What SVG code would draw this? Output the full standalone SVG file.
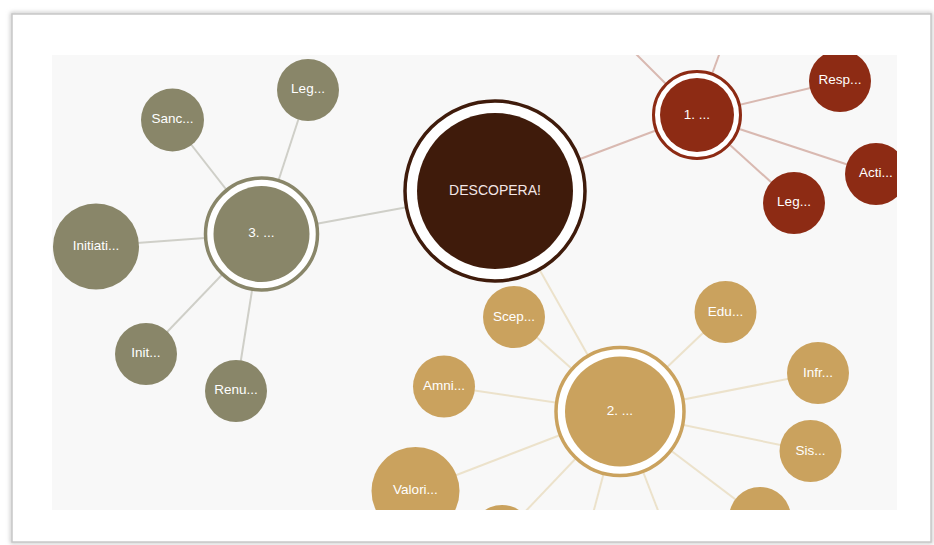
<svg xmlns="http://www.w3.org/2000/svg" width="934" height="545" viewBox="0 0 934 545">
<defs>
<style>
.t{font-family:"Liberation Sans",Arial,sans-serif;font-size:13.5px;fill:#fff;text-anchor:middle;dominant-baseline:central}
.r{fill:#8d2b14}
.o{fill:#898669}
.g{fill:#caa25e}
.lr{stroke:#d9b9b1;stroke-width:2;fill:none}
.lo{stroke:#cfcfc8;stroke-width:2;fill:none}
.lg{stroke:#ece2cb;stroke-width:2;fill:none}
</style>
<clipPath id="panel"><rect x="52" y="55" width="845" height="455"/></clipPath>
<filter id="sh" x="-5%" y="-5%" width="110%" height="110%"><feGaussianBlur stdDeviation="2"/></filter>
</defs>
<rect width="934" height="545" fill="#fff"/>
<rect x="12" y="14" width="919" height="528" fill="none" stroke="#bdbdbd" stroke-width="3" filter="url(#sh)"/>
<rect x="12" y="14" width="919" height="528" fill="#fff" stroke="#c8c8c8" stroke-width="1.5"/>
<rect x="52" y="55" width="845" height="455" fill="#f8f8f8"/>
<g clip-path="url(#panel)">
<g id="connectors">
<line class="lo" x1="261" y1="234" x2="495" y2="191"/>
<line class="lr" x1="697" y1="115" x2="495" y2="191"/>
<line class="lg" x1="620" y1="412" x2="495" y2="191"/>
<line class="lr" x1="697" y1="115" x2="600" y2="18"/>
<line class="lr" x1="697" y1="115" x2="730" y2="25"/>
<line class="lr" x1="697" y1="115" x2="840" y2="81"/>
<line class="lr" x1="697" y1="115" x2="876" y2="174"/>
<line class="lr" x1="697" y1="115" x2="794" y2="203"/>
<line class="lo" x1="261" y1="234" x2="308" y2="90"/>
<line class="lo" x1="261" y1="234" x2="172" y2="120"/>
<line class="lo" x1="261" y1="234" x2="96" y2="246"/>
<line class="lo" x1="261" y1="234" x2="146" y2="354"/>
<line class="lo" x1="261" y1="234" x2="236" y2="391"/>
<line class="lg" x1="620" y1="412" x2="514" y2="317"/>
<line class="lg" x1="620" y1="412" x2="725" y2="312"/>
<line class="lg" x1="620" y1="412" x2="818" y2="373"/>
<line class="lg" x1="620" y1="412" x2="810" y2="451"/>
<line class="lg" x1="620" y1="412" x2="444" y2="386"/>
<line class="lg" x1="620" y1="412" x2="415" y2="491"/>
<line class="lg" x1="620" y1="412" x2="502" y2="536"/>
<line class="lg" x1="620" y1="412" x2="578" y2="570"/>
<line class="lg" x1="620" y1="412" x2="681" y2="570"/>
<line class="lg" x1="620" y1="412" x2="760" y2="518"/>
</g>
<g id="n-descopera">
<circle cx="495" cy="191" r="90" fill="#fff" stroke="#3f1b0b" stroke-width="3.5"/>
<circle cx="495" cy="191" r="78" fill="#3f1b0b"/>
<text class="t" x="495" y="190" style="font-size:14px;fill:#f3e6e6">DESCOPERA!</text>
</g>
<g id="n-1">
<circle cx="697" cy="115" r="43.5" fill="#fff" stroke="#8d2b14" stroke-width="3"/>
<circle cx="697" cy="115" r="37" class="r"/>
<text class="t" x="697" y="114">1. ...</text>
</g>
<g id="n-1-resp"><circle cx="840" cy="81" r="31" class="r"/><text class="t" x="840" y="79">Resp...</text></g>
<g id="n-1-acti"><circle cx="876" cy="174" r="31" class="r"/><text class="t" x="876" y="172">Acti...</text></g>
<g id="n-1-leg"><circle cx="794" cy="203" r="31" class="r"/><text class="t" x="794" y="201">Leg...</text></g>
<g id="n-3">
<circle cx="261.5" cy="234" r="56" fill="#fff" stroke="#898669" stroke-width="3.5"/>
<circle cx="261.5" cy="234" r="48" class="o"/>
<text class="t" x="261.5" y="232">3. ...</text>
</g>
<g id="n-3-leg"><circle cx="308" cy="90" r="31" class="o"/><text class="t" x="308" y="88">Leg...</text></g>
<g id="n-3-sanc"><circle cx="172.5" cy="120" r="31.5" class="o"/><text class="t" x="172.5" y="118">Sanc...</text></g>
<g id="n-3-initiati"><circle cx="96" cy="246.5" r="43" class="o"/><text class="t" x="96" y="245">Initiati...</text></g>
<g id="n-3-init"><circle cx="146" cy="354" r="31" class="o"/><text class="t" x="146" y="352">Init...</text></g>
<g id="n-3-renu"><circle cx="236" cy="391" r="31" class="o"/><text class="t" x="236" y="389">Renu...</text></g>
<g id="n-2">
<circle cx="620" cy="411.5" r="64" fill="#fff" stroke="#caa25e" stroke-width="3.5"/>
<circle cx="620" cy="411.5" r="55" class="g"/>
<text class="t" x="620" y="410">2. ...</text>
</g>
<g id="n-2-scep"><circle cx="514" cy="317" r="31" class="g"/><text class="t" x="514" y="316">Scep...</text></g>
<g id="n-2-edu"><circle cx="725.5" cy="312" r="31" class="g"/><text class="t" x="725.5" y="311">Edu...</text></g>
<g id="n-2-infr"><circle cx="818" cy="373" r="31" class="g"/><text class="t" x="818" y="372">Infr...</text></g>
<g id="n-2-sis"><circle cx="810.5" cy="451" r="31" class="g"/><text class="t" x="810.5" y="450">Sis...</text></g>
<g id="n-2-amni"><circle cx="444" cy="386.5" r="31" class="g"/><text class="t" x="444" y="385">Amni...</text></g>
<g id="n-2-valori"><circle cx="415.5" cy="491" r="44" class="g"/><text class="t" x="415.5" y="489">Valori...</text></g>
<g id="n-2-b1"><circle cx="502" cy="536" r="31" class="g"/></g>
<g id="n-2-b2"><circle cx="760" cy="518" r="31" class="g"/></g>
</g>
</svg>
